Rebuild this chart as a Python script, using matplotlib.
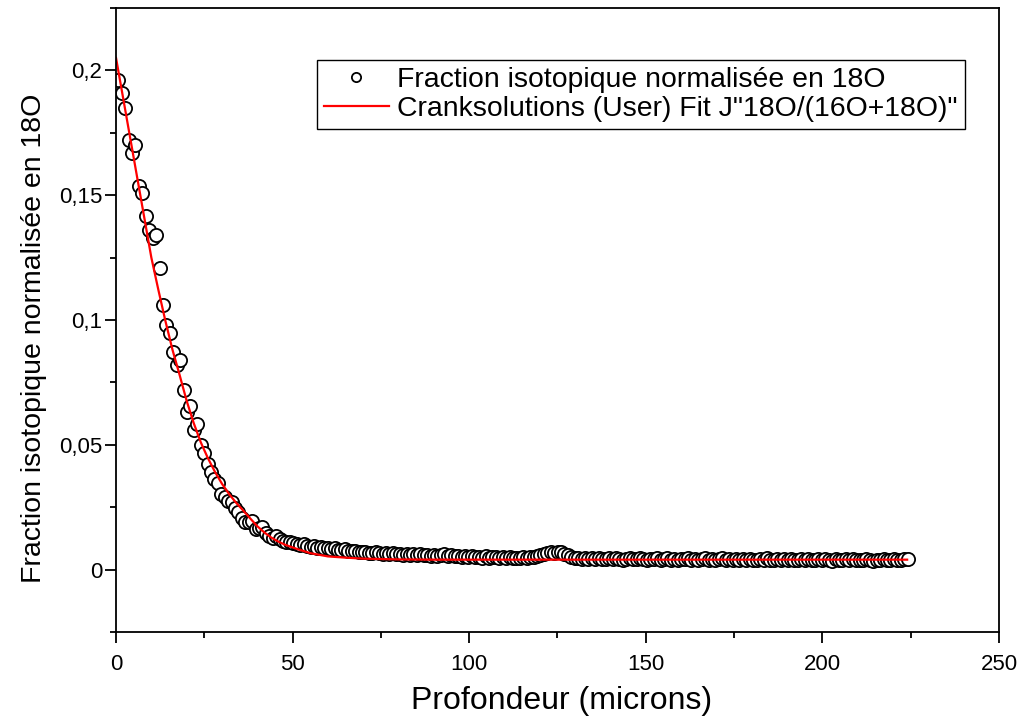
import numpy as np
import matplotlib
matplotlib.use('Agg')
import matplotlib.pyplot as plt
from matplotlib.ticker import FuncFormatter, MultipleLocator

plt.rcParams['font.family'] = ['Liberation Sans', 'DejaVu Sans']

# Measured 18O fraction, one point per depth step
depth_start = 0.65
depth_step = 0.9717
fraction = [
    0.196, 0.191, 0.185, 0.172, 0.167, 0.170, 0.1536, 0.151, 0.1416, 0.136,
    0.133, 0.134, 0.1207, 0.106, 0.098, 0.0947, 0.0872, 0.082, 0.084, 0.0719,
    0.0633, 0.0656, 0.056, 0.0585, 0.0499, 0.0469, 0.0423, 0.0392, 0.0365, 0.0349,
    0.0303, 0.0289, 0.0275, 0.0269, 0.0245, 0.0229, 0.0205, 0.0189, 0.0192, 0.0196,
    0.0163, 0.0165, 0.0169, 0.0145, 0.0136, 0.0128, 0.0136, 0.0122, 0.0116, 0.0112,
    0.0109, 0.0105,
    0.0102, 0.0098, 0.0101, 0.0095, 0.0092, 0.0094, 0.0088, 0.0090, 0.0085, 0.0087,
    0.0083, 0.0086, 0.0080, 0.0078, 0.0081, 0.0075, 0.0073, 0.0076, 0.0071, 0.0069,
    0.0072, 0.0068, 0.0065, 0.0070, 0.0066, 0.0064, 0.0067, 0.0062, 0.0065, 0.0061,
    0.0063, 0.0060, 0.0064, 0.0059, 0.0061, 0.0058, 0.0062, 0.0057, 0.0060, 0.0056,
    0.0059, 0.0055, 0.0058, 0.0061, 0.0054, 0.0057, 0.0053, 0.0056, 0.0052, 0.0055,
    0.0051, 0.0054, 0.0049, 0.0052, 0.0048, 0.0053, 0.0047, 0.0050, 0.0049, 0.0046,
    0.0050, 0.0047, 0.0049, 0.0045, 0.0048, 0.0046, 0.0049, 0.0047, 0.0050, 0.0052,
    0.0055, 0.0058, 0.0064, 0.0068, 0.0070, 0.0066, 0.0071, 0.0069, 0.0064, 0.0058,
    0.0052, 0.0048, 0.0046, 0.0044, 0.0047, 0.0043, 0.0045, 0.0042, 0.0046, 0.0043,
    0.0041, 0.0045, 0.0042, 0.0048, 0.0043, 0.0040, 0.0044, 0.0046, 0.0041, 0.0043,
    0.0047, 0.0042, 0.0040, 0.0044, 0.0041, 0.0045, 0.0039, 0.0043, 0.0046, 0.0040,
    0.0042, 0.0038, 0.0044, 0.0041, 0.0047, 0.0040, 0.0043, 0.0039, 0.0042, 0.0045,
    0.0040, 0.0043, 0.0037, 0.0041, 0.0046, 0.0039, 0.0042, 0.0040, 0.0044, 0.0038,
    0.0041, 0.0039, 0.0043, 0.0040, 0.0037, 0.0042, 0.0039, 0.0045, 0.0040, 0.0038,
    0.0042, 0.0039, 0.0041, 0.0037, 0.0043, 0.0040, 0.0038, 0.0042, 0.0039, 0.0041,
    0.0037, 0.0040, 0.0043, 0.0038, 0.0041, 0.0039, 0.0036, 0.0042, 0.0039, 0.0037,
    0.0041, 0.0038, 0.0043, 0.0039, 0.0037, 0.0040, 0.0042, 0.0038, 0.0036, 0.0040,
    0.0038, 0.0041, 0.0037, 0.0039, 0.0042, 0.0038, 0.0040, 0.0041, 0.0044,
]
depth = depth_start + depth_step * np.arange(len(fraction))

# Crank fit curve
fit_x = [0, 2, 4, 6, 8, 10, 12, 14, 16, 18, 20, 22, 24, 26, 28, 30, 32, 34, 36,
         38, 40, 42, 44, 46, 48, 51, 55, 60, 65, 70, 80, 90, 224]
fit_y = [0.205, 0.189, 0.173, 0.157, 0.141, 0.125, 0.112, 0.0995, 0.088, 0.078,
         0.0676, 0.0587, 0.051, 0.0447, 0.0392, 0.0344, 0.0303, 0.0268, 0.0237,
         0.0205, 0.0174, 0.0149, 0.0128, 0.0112, 0.0099, 0.0084, 0.0066, 0.0053,
         0.0048, 0.0044, 0.0041, 0.0040, 0.0040]

fig = plt.figure(figsize=(10.25, 7.24), dpi=100)
ax = fig.add_axes([0.1132, 0.127, 0.8614, 0.862])

ax.plot(depth, fraction, linestyle='none', marker='o', markersize=9.5,
        markerfacecolor='white', markeredgecolor='black', markeredgewidth=1.3,
        label='Fraction isotopique normalisée en 18O')
ax.plot(fit_x, fit_y, color='red', linewidth=1.6,
        label='Cranksolutions (User) Fit J"18O/(16O+18O)"')

ax.set_xlim(0, 250)
ax.set_ylim(-0.025, 0.225)
ax.xaxis.set_major_locator(MultipleLocator(50))
ax.xaxis.set_minor_locator(MultipleLocator(25))
ax.yaxis.set_major_locator(MultipleLocator(0.05))
ax.yaxis.set_minor_locator(MultipleLocator(0.025))
ax.yaxis.set_major_formatter(FuncFormatter(lambda v, p: f'{v:g}'.replace('.', ',')))

ax.tick_params(which='major', direction='out', length=8, width=1.3, labelsize=16)
ax.tick_params(which='minor', direction='out', length=4, width=1.3)
ax.tick_params(axis='x', which='major', pad=8)
ax.tick_params(axis='y', which='major', pad=2)
for s in ax.spines.values():
    s.set_linewidth(1.3)

ax.set_xlabel('Profondeur (microns)', fontsize=23)
ax.xaxis.set_label_coords(0.505, -0.086)
ax.set_ylabel('Fraction isotopique normalisée en 18O', fontsize=20.5)
ax.yaxis.set_label_coords(-0.078, 0.47)

leg = ax.legend(loc='upper right', bbox_to_anchor=(0.9615, 0.917), borderaxespad=0,
                fontsize=20.4, fancybox=False, edgecolor='black', framealpha=1,
                markerscale=0.7, handlelength=2.3, handletextpad=0.3,
                borderpad=0.25, labelspacing=0.1)
leg.get_frame().set_linewidth(1.0)

fig.savefig('out.png', dpi=100)
